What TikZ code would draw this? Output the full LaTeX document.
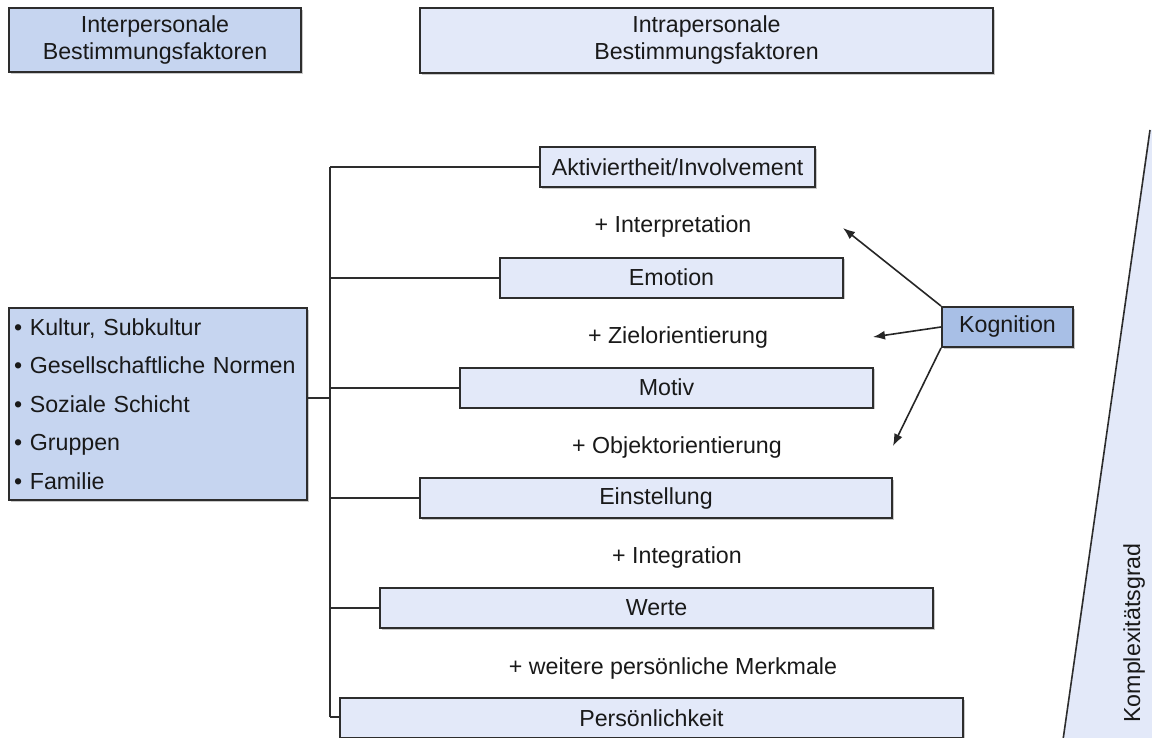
\documentclass[tikz,border=0pt]{standalone}
\usepackage{fontspec}
\setmainfont{Liberation Sans}
\usetikzlibrary{arrows.meta,shadows}
\definecolor{bdark}{RGB}{198,213,240}
\definecolor{blight}{RGB}{227,233,249}
\definecolor{bkog}{RGB}{168,191,230}
\definecolor{edge}{RGB}{45,45,45}
\tikzset{
  boxbase/.style={draw=edge, line width=1pt, inner sep=0pt, text=black!90,
    font=\fontsize{11.6}{13.5}\selectfont,
    drop shadow={shadow xshift=0.8pt, shadow yshift=-0.8pt, fill=black!35, opacity=0.6}},
  lbox/.style={boxbase, fill=blight},
  dbox/.style={boxbase, fill=bdark},
  kbox/.style={boxbase, fill=bkog},
  plus/.style={font=\fontsize{11.6}{13.5}\selectfont, text=black!90, inner sep=0pt},
  conn/.style={draw=edge, line width=1pt},
  arr/.style={draw=black!85, line width=0.8pt, -{Latex[length=6pt,width=4.5pt]}}
}
\begin{document}
\begin{tikzpicture}[x=0.5pt,y=-0.5pt]
\clip (0,0) rectangle (1152,738);
\fill[white] (0,0) rectangle (1152,738);
% complexity wedge
\fill[blight] (1150,130) -- (1063,740) -- (1153,740) -- (1153,130) -- cycle;
\draw[draw=edge, line width=0.8pt] (1150,130) -- (1063,740);
\node[rotate=90, plus] (komp) at (1134,633) {Komplexitätsgrad};

% headers
\node[dbox, minimum width=146pt, minimum height=32pt, align=center] (inter) at (155,40)
  {Interpersonale\\Bestimmungsfaktoren};
\node[lbox, minimum width=286.5pt, minimum height=32.5pt, align=center] (intra) at (706.5,40.5)
  {Intrapersonale\\Bestimmungsfaktoren};

% intrapersonal stack
\node[lbox, minimum width=137.5pt, minimum height=20pt] (akt) at (677.5,167) {Aktiviertheit/Involvement};
\node[lbox, minimum width=171.5pt, minimum height=20pt] (emo) at (671.5,277.5) {Emotion};
\node[lbox, minimum width=206.5pt, minimum height=20pt] (mot) at (666.5,387.5) {Motiv};
\node[lbox, minimum width=236pt, minimum height=20pt] (ein) at (656,498) {Einstellung};
\node[lbox, minimum width=276.5pt, minimum height=20pt] (wer) at (656.5,608) {Werte};
\node[lbox, minimum width=311.5pt, minimum height=20pt] (per) at (651.5,718) {Persönlichkeit};

\node[plus] (p1) at (673,227) {+ Interpretation};
\node[plus] (p2) at (678,337) {+ Zielorientierung};
\node[plus] (p3) at (677,447) {+ Objektorientierung};
\node[plus] (p4) at (677,557) {+ Integration};
\node[plus] (p5) at (673,668) {+ weitere persönliche Merkmale};

% left box
\node[dbox, minimum height=96pt, align=left, text width=144pt,
      font=\fontsize{11.6}{19.25}\selectfont, inner xsep=2.5pt] (left) at (158,404)
  {• Kultur, Subkultur\\• Gesellschaftliche Normen\\• Soziale Schicht\\• Gruppen\\• Familie};

% Kognition
\node[kbox, minimum width=65.5pt, minimum height=20pt] (kog) at (1007.5,327) {Kognition};

% trunk
\coordinate (ttop) at (330,167);
\coordinate (tbot) at (330,717);
\coordinate (lj) at (330,398);
\draw[conn] (ttop) -- (tbot);
\draw[conn] (akt.west) -- (akt.west -| ttop);
\draw[conn] (emo.west) -- (emo.west -| ttop);
\draw[conn] (mot.west) -- (mot.west -| ttop);
\draw[conn] (ein.west) -- (ein.west -| ttop);
\draw[conn] (wer.west) -- (wer.west -| ttop);
\draw[conn] (per.west |- tbot) -- (tbot);
\draw[conn] (left.east |- lj) -- (lj);

% arrows
\coordinate (a1) at (843,228);
\coordinate (a2) at (873,337);
\coordinate (a3) at (893,446);
\draw[arr] (kog.north west) -- (a1);
\draw[arr] (kog.west) -- (a2);
\draw[arr] (kog.south west) -- (a3);
\end{tikzpicture}
\end{document}
